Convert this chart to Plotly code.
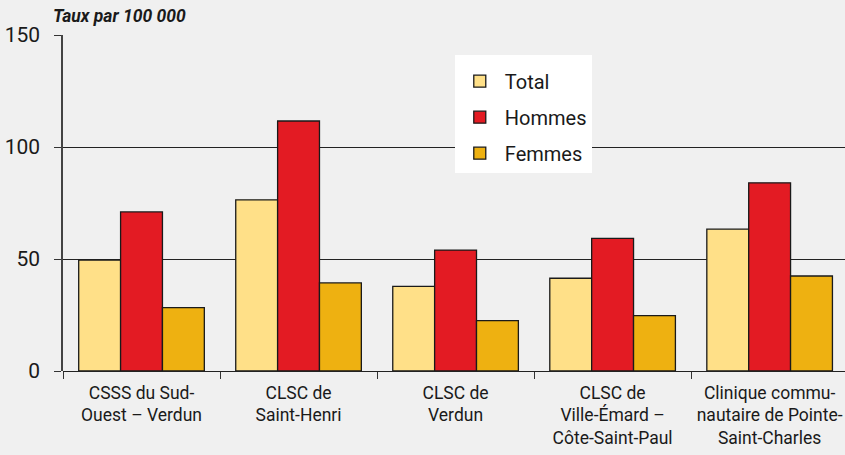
import plotly.graph_objects as go

categories = ["CSSS du Sud-<br>Ouest – Verdun", "CLSC de<br>Saint-Henri", "CLSC de<br>Verdun",
              "CLSC de<br>Ville-Émard –<br>Côte-Saint-Paul", "Clinique commu-<br>nautaire de Pointe-<br>Saint-Charles"]
total = [49.5, 76.4, 37.8, 41.4, 63.3]
hommes = [71.0, 111.6, 54.0, 59.2, 84.0]
femmes = [28.3, 39.3, 22.5, 24.7, 42.4]
y_ticks = [0, 50, 100, 150]

FONT = "Roboto, Liberation Sans, sans-serif"
line = dict(color="#1a1a1a", width=1.3)

fig = go.Figure()
for name, vals, col in [("Total", total, "#FFE088"), ("Hommes", hommes, "#E31B23"), ("Femmes", femmes, "#EEB111")]:
    fig.add_trace(go.Bar(x=categories, y=vals, name=name, legendgroup=name,
                         marker=dict(color=col, line=line)))

fig.update_layout(
    width=845, height=455,
    margin=dict(l=63, r=0, t=35, b=84),
    paper_bgcolor="#F0F0F0", plot_bgcolor="#F0F0F0",
    barmode="group", bargap=0.2, bargroupgap=0,
    font=dict(family=FONT, size=17, color="#1a1a1a"),
    showlegend=True,
    legend=dict(x=0.501, y=0.94, xanchor="left", yanchor="top", bgcolor="white",
                font=dict(size=20), tracegroupgap=7, borderwidth=0,
                itemwidth=40, title=dict(text=" ", font=dict(size=5))),
)
fig.update_xaxes(type="category", range=[-0.5, 4.48], tickson="boundaries", ticks="outside",
                 ticklen=7, tickcolor="#333", showline=False, showgrid=False, tickangle=0,
                 ticklabelstandoff=9, tickfont=dict(size=17.5))
fig.update_yaxes(range=[0, 150], tickvals=y_ticks, ticks="outside", ticklen=7, tickcolor="#333",
                 showline=True, linecolor="#444", linewidth=1.5, showgrid=True,
                 gridcolor="#222", gridwidth=1.3, zeroline=True, zerolinecolor="#222",
                 zerolinewidth=1.3, ticklabelstandoff=10, tickfont=dict(size=21))
fig.add_annotation(text="<b><i>Taux par 100 000</i></b>", xref="paper", yref="paper",
                   x=-0.015, y=1.0, xanchor="left", yanchor="bottom", yshift=7, showarrow=False,
                   font=dict(size=17.5, family=FONT))
fig.write_html("out.html", config={"displayModeBar": False},
               post_script="document.body.style.margin='0';")
